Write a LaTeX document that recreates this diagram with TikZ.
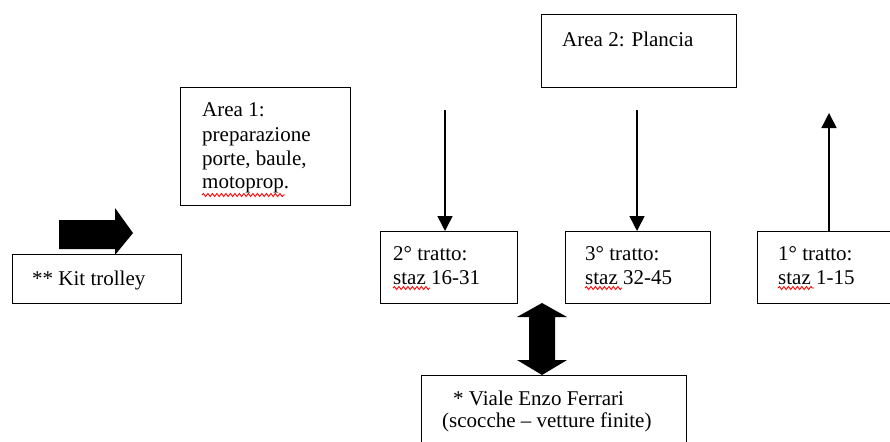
\documentclass[tikz,border=0pt]{standalone}
\usepackage{fontspec}
\setmainfont{Liberation Serif}
\usetikzlibrary{arrows.meta,decorations.pathmorphing}
\begin{document}
\begin{tikzpicture}[x=1pt,y=-1pt,
  box/.style={draw,line width=1.3pt,inner sep=0pt,anchor=north west},
  txt/.style={anchor=base west,inner sep=0pt,font=\fontsize{21}{24}\selectfont},
  arr/.style={line width=1.5pt,-{Triangle[length=15pt,width=15pt]}},
  spell/.style={red,line width=0.9pt,decorate,decoration={snake,amplitude=1.5pt,segment length=4.5pt}},
  block/.style={fill=black}]
\useasboundingbox (0,0) rectangle (890,441);

% boxes
\node[box,minimum width=170pt,minimum height=118pt] (a1) at (180,87) {};
\node[box,minimum width=195pt,minimum height=73pt]  (a2) at (541,14) {};
\node[box,minimum width=169pt,minimum height=49pt]  (kt) at (12,254) {};
\node[box,minimum width=137pt,minimum height=72pt]  (t2) at (380,231) {};
\node[box,minimum width=145pt,minimum height=72pt]  (t3) at (565,231) {};
\node[box,minimum width=150pt,minimum height=72pt]  (t1) at (757,231) {};
\node[box,minimum width=265pt,minimum height=80pt]  (vf) at (421,375) {};

% texts
\node[txt] (a1l1) at (202,116) {Area 1:};
\node[txt] (a1l2) at (202,141) {preparazione};
\node[txt] (a1l3) at (202,165) {porte, baule,};
\node[txt] (a1l4) at (202,188) {motoprop.};
\node[txt] (a2l1) at (562,47) {Area 2: Plancia};
\node[txt] (ktl1) at (32,285) {** Kit trolley};
\node[txt] (t2l1) at (393,260) {2° tratto:};
\node[txt] (t2l2) at (393,284) {staz 16-31};
\node[txt] (t3l1) at (585,260) {3° tratto:};
\node[txt] (t3l2) at (585,284) {staz 32-45};
\node[txt] (t1l1) at (778,260) {1° tratto:};
\node[txt] (t1l2) at (778,284) {staz 1-15};
\node[txt] (vfl1) at (453,405) {* Viale Enzo Ferrari};
\node[txt] (vfl2) at (442,427) {(scocche – vetture finite)};

% spelling marks
\draw[spell] (a1l4.base west) ++(0,7) -- ++(83,0);
\draw[spell] (t2l2.base west) ++(0,4) -- ++(37,0);
\draw[spell] (t3l2.base west) ++(0,4) -- ++(37,0);
\draw[spell] (t1l2.base west) ++(0,4) -- ++(36,0);

% line arrows
\coordinate (d2) at (445,110);
\coordinate (d3) at (637,110);
\coordinate (u1) at (829,113);
\draw[arr] (d2) -- (d2 |- t2.north);
\draw[arr] (d3) -- (d3 |- t3.north);
\draw[arr] (u1 |- t1.north) -- (u1);

% block arrows
\fill[block] (59,220) -- (115,220) -- (115,208) -- (133,233) -- (115,255)
  -- (115,249) -- (59,249) -- cycle;
\fill[block] (542,303) -- (567,317) -- (555,317) -- (555,360) -- (567,360)
  -- (542,375) -- (517,360) -- (529,360) -- (529,317) -- (517,317) -- cycle;
\end{tikzpicture}
\end{document}
